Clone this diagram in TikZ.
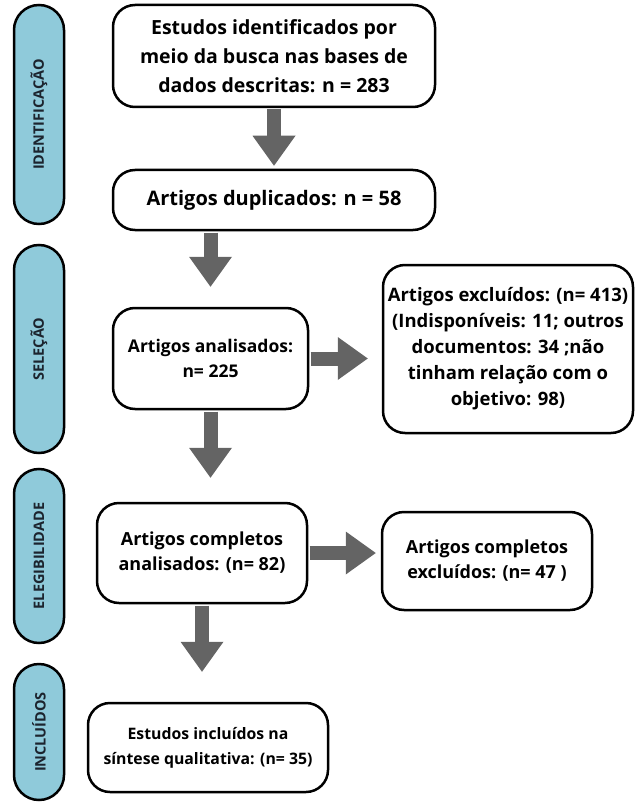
\documentclass[tikz,border=0pt]{standalone}
\usepackage{fontspec}
\setmainfont{Open Sans}
\usepackage{tikz}
\usetikzlibrary{arrows.meta}
\definecolor{stageblue}{RGB}{143,202,218}
\definecolor{stagetext}{RGB}{28,36,46}
\definecolor{arrowgray}{RGB}{100,100,100}
\tikzset{%
  every box/.style={
    draw,
    line width=2.5pt,
    rounded corners=22pt,
    fill=white,
    align=center,
    inner sep=0pt
  },
  stage/.style={
    draw,
    line width=2.5pt,
    fill=stageblue,
    rotate=90,
    minimum height=50pt,
    rounded corners=25pt,
    inner sep=0pt,
    text=stagetext,
    font=\fontsize{14.5}{16}\selectfont\bfseries
  },
  flow arrow/.style={
    arrowgray,
    line width=14pt,
    shorten <=1.25pt,
    -{Triangle[width=43pt,length=30pt,line width=0pt]}
  },
}

\begin{document}
\begin{tikzpicture}[x=1pt, y=-1pt]
        \useasboundingbox (0,0) rectangle (635,802);

        % stages
        \foreach \name/\y/\len [count=\i] in {IDENTIFICAÇÃO/114.5/219, SELEÇÃO/349/208, ELEGIBILIDADE/556/174, INCLUÍDOS/732/136}
        \node [stage, minimum width=\len pt] (stage-\i) at (39,\y) {\name};

        % boxes
        \node [every box, minimum width=322pt, minimum height=102pt,
          font=\fontsize{19.5}{29}\selectfont\bfseries] (estudos) at (274,56)
          {Estudos identificados por\\meio da busca nas bases de\\dados descritas: n = 283};
        \node [every box, minimum width=322pt, minimum height=60pt,
          font=\fontsize{20}{29}\selectfont\bfseries] (duplicados) at (274,200)
          {Artigos duplicados: n = 58};
        \node [every box, minimum width=195pt, minimum height=101pt,
          font=\fontsize{17.5}{25}\selectfont\bfseries] (analisados) at (210.5,358.5)
          {Artigos analisados:\\n= 225};
        \node [every box, minimum width=250pt, minimum height=168pt,
          font=\fontsize{18.5}{26}\selectfont\bfseries] (excluidos) at (508,349)
          {Artigos excluídos: (n= 413)\\(Indisponíveis: 11; outros\\documentos: 34 ;não\\tinham relação com o\\objetivo: 98)};
        \node [every box, minimum width=210pt, minimum height=100pt,
          font=\fontsize{18}{25}\selectfont\bfseries] (completos) at (202,553)
          {Artigos completos\\analisados: (n= 82)};
        \node [every box, minimum width=210pt, minimum height=98pt,
          font=\fontsize{18}{25}\selectfont\bfseries] (compexcl) at (487,561)
          {Artigos completos\\excluídos: (n= 47 )};
        \node [every box, minimum width=240pt, minimum height=89pt,
          font=\fontsize{15.8}{25}\selectfont\bfseries] (incluidos) at (208,747.5)
          {Estudos incluídos na\\síntese qualitativa: (n= 35)};

        % arrows
        \draw [flow arrow, shorten >=3pt] (estudos.south) -- (duplicados.north);
        \draw [flow arrow, shorten >=20pt] (duplicados.south -| analisados) -- (analisados.north);
        \draw [flow arrow, shorten >=14pt] (analisados.east) -- (analisados.east -| excluidos.west);
        \draw [flow arrow, shorten >=24pt] (analisados.south) -- (analisados.south |- completos.north);
        \draw [flow arrow, shorten >=5pt] (completos.east) -- (completos.east -| compexcl.west);
        \draw [flow arrow, shorten >=30pt] (completos.south) -- (completos.south |- incluidos.north);

    \end{tikzpicture}
\end{document}
